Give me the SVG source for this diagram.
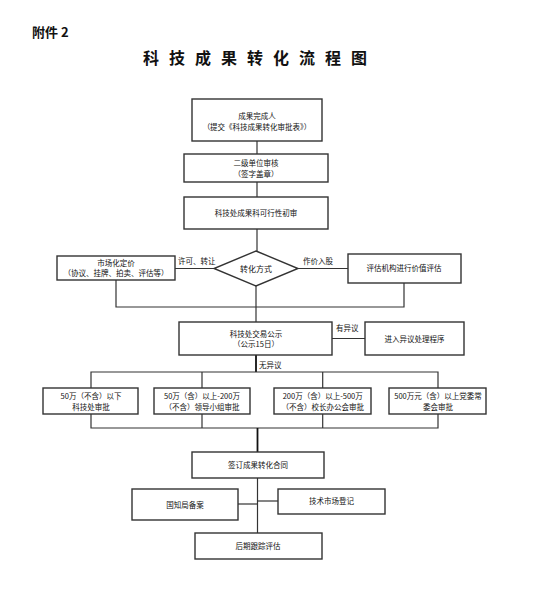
<svg xmlns="http://www.w3.org/2000/svg" width="540" height="593" viewBox="0 0 540 593">
<style>
.box{fill:#fff;stroke:#333;stroke-width:1.4}
.ln{fill:none;stroke:#333;stroke-width:1.2}
.thk{fill:none;stroke:#111;stroke-width:1.8}
text{font-family:"Noto Sans CJK SC","Noto Sans",sans-serif;fill:#111}
.t{font-size:7.5px;text-anchor:middle}
.lb{font-size:7.5px}
</style>
<rect width="540" height="593" fill="#fff"/>
<text x="32" y="37" style="font-size:13px;font-weight:bold">附件 2</text>
<text x="260" y="64" style="font-size:16px;font-weight:bold;text-anchor:middle;letter-spacing:10px">科技成果转化流程图</text>
<g id="connectors">
<line class="ln" x1="257" y1="141" x2="257" y2="154"/>
<line class="ln" x1="257" y1="182" x2="257" y2="197"/>
<line class="ln" x1="257" y1="229" x2="257" y2="251"/>
<line class="ln" x1="175" y1="268.5" x2="214" y2="268.5"/>
<line class="ln" x1="298" y1="268.5" x2="348" y2="268.5"/>
<polyline class="ln" points="116,280 116,307 404,307 404,283"/>
<line class="ln" x1="256" y1="286" x2="256" y2="322"/>
<line class="ln" x1="332" y1="338.5" x2="365" y2="338.5"/>
<line class="thk" x1="256" y1="355" x2="256" y2="372"/>
<polyline class="ln" points="91,388 91,372 438,372 438,388"/>
<line class="ln" x1="202" y1="372" x2="202" y2="388"/>
<line class="ln" x1="322.7" y1="372" x2="322.7" y2="388"/>
<polyline class="ln" points="91,414 91,428 438,428 438,414"/>
<line class="ln" x1="202" y1="414" x2="202" y2="428"/>
<line class="ln" x1="322.7" y1="414" x2="322.7" y2="428"/>
<line class="thk" x1="257.5" y1="428" x2="257.5" y2="452"/>
<line class="ln" x1="257.5" y1="478" x2="257.5" y2="533"/>
<line class="ln" x1="238" y1="504" x2="257.5" y2="504"/>
<line class="ln" x1="257.5" y1="501" x2="278" y2="501"/>
</g>
<g id="labels">
<text class="lb" x="178" y="264">许可、转让</text>
<text class="lb" x="303" y="264">作价入股</text>
<text class="lb" x="336" y="331">有异议</text>
<text class="lb" x="259" y="368">无异议</text>
</g>
<g id="n1"><rect class="box" x="192" y="99" width="130" height="42"/><text class="t" x="257" y="119">成果完成人</text><text class="t" x="257" y="129.5">（提交《科技成果转化审批表》）</text></g>
<g id="n2"><rect class="box" x="184" y="154" width="144" height="28"/><text class="t" x="256" y="165.5">二级单位审核</text><text class="t" x="256" y="177">（签字盖章）</text></g>
<g id="n3"><rect class="box" x="184" y="197" width="144" height="32"/><text class="t" x="256" y="216">科技处成果科可行性初审</text></g>
<g id="n4"><polygon class="box" points="256,251 298,268.5 256,286 214,268.5"/><text class="t" x="256" y="271.5" style="font-size:8px">转化方式</text></g>
<g id="n5"><rect class="box" x="57" y="256" width="118" height="24"/><text class="t" x="116" y="266">市场化定价</text><text class="t" x="116" y="276">（协议、挂牌、拍卖、评估等）</text></g>
<g id="n6"><rect class="box" x="348" y="254" width="113" height="29"/><text class="t" x="404" y="271">评估机构进行价值评估</text></g>
<g id="n7"><rect class="box" x="179" y="322" width="153" height="33"/><text class="t" x="256" y="337">科技处交易公示</text><text class="t" x="256" y="346.5">（公示15日）</text></g>
<g id="n8"><rect class="box" x="365" y="322" width="99" height="33"/><text class="t" x="414.5" y="341.5">进入异议处理程序</text></g>
<g id="n9"><rect class="box" x="43" y="388" width="95" height="26"/><text class="t" x="91" y="399">50万（不含）以下</text><text class="t" x="91" y="409.5">科技处审批</text></g>
<g id="n10"><rect class="box" x="154" y="388" width="96" height="26"/><text class="t" x="202" y="399">50万（含）以上-200万</text><text class="t" x="202" y="409.5">（不含）领导小组审批</text></g>
<g id="n11"><rect class="box" x="274" y="388" width="97" height="26"/><text class="t" x="322.7" y="399">200万（含）以上-500万</text><text class="t" x="322.7" y="409.5">（不含）校长办公会审批</text></g>
<g id="n12"><rect class="box" x="389" y="388" width="97" height="26"/><text class="t" x="438" y="399">500万元（含）以上党委常</text><text class="t" x="438" y="409.5">委会审批</text></g>
<g id="n13"><rect class="box" x="192" y="452" width="132" height="26"/><text class="t" x="258" y="467.5">签订成果转化合同</text></g>
<g id="n14"><rect class="box" x="132" y="489" width="106" height="31"/><text class="t" x="185" y="507.5">国知局备案</text></g>
<g id="n15"><rect class="box" x="278" y="489" width="107" height="25"/><text class="t" x="331.5" y="504">技术市场登记</text></g>
<g id="n16"><rect class="box" x="195" y="533" width="127" height="26"/><text class="t" x="258" y="548.5">后期跟踪评估</text></g>
</svg>
